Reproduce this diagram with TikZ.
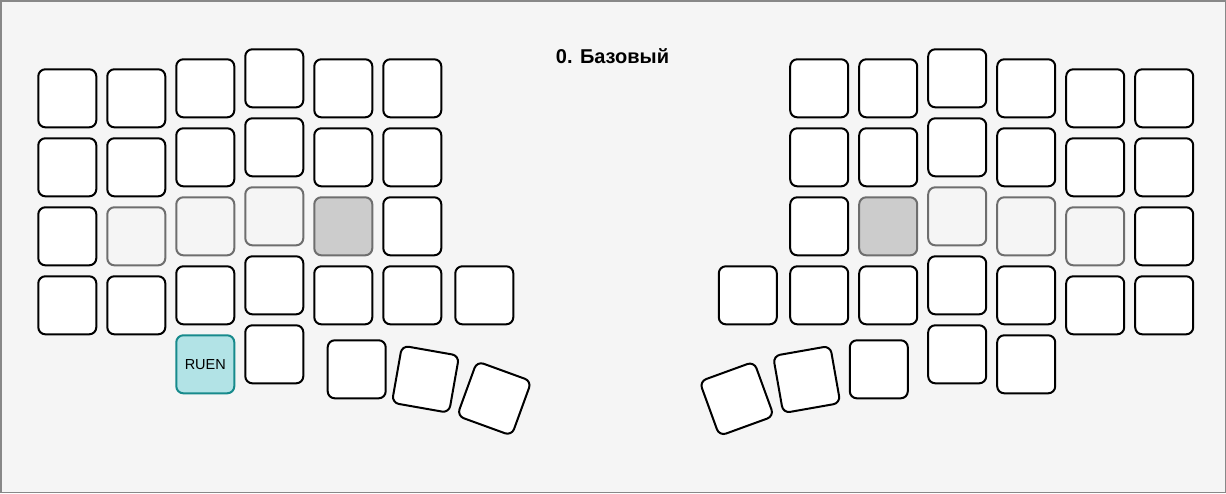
\documentclass[tikz,border=0pt]{standalone}
\usepackage{fontspec}
\setmainfont{Liberation Sans}
\definecolor{bggray}{HTML}{F5F5F5}
\definecolor{framegray}{HTML}{888888}
\definecolor{keygray}{HTML}{6E6E6E}
\definecolor{heldgray}{HTML}{CCCCCC}
\definecolor{cyanfill}{HTML}{B2E3E6}
\definecolor{tealline}{HTML}{178A8C}
\begin{document}
\begin{tikzpicture}[x=1pt,y=-1pt,
  key/.style={shape=rectangle,draw=black,fill=white,line width=2pt,rounded corners=7pt,
    minimum width=58pt,minimum height=58pt,inner sep=0pt},
  keyoff/.style={key,draw=keygray,fill=bggray},
  keyheld/.style={key,draw=keygray,fill=heldgray},
  keylayer/.style={key,draw=tealline,fill=cyanfill,font=\fontsize{14.5}{16}\selectfont}]
\fill[bggray] (0,0) rectangle (1226,493);
\draw[framegray,line width=1.5pt] (0.75,0.75) rectangle (1225.25,492.25);
\useasboundingbox (0,0) rectangle (1226,493);
\node[font=\bfseries\fontsize{20}{24}\selectfont,anchor=base] (title) at (612.5,63.3) {0. Базовый};
% left half
\foreach \c/\x/\y in {0/67.3/98.3,1/136.3/98.3,2/205.3/88.3,3/274.3/78.3,4/343.3/88.3,5/412.3/88.3}{
  \foreach \r in {0,1,3}{\node[key] (L\c\r) at (\x,\y+69*\r) {};}
}
\node[key]     (L02) at (67.3,236.3) {};
\node[keyoff]  (L12) at (136.3,236.3) {};
\node[keyoff]  (L22) at (205.3,226.3) {};
\node[keyoff]  (L32) at (274.3,216.3) {};
\node[keyheld] (L42) at (343.3,226.3) {};
\node[key]     (L52) at (412.3,226.3) {};
\node[keylayer] (L24) at (205.3,364.3) {RUEN};
\node[key] (L34) at (274.3,354.3) {};
\node[key] (L63) at (484.3,295.3) {};
\node[key] (LT1) at (356.7,369.3) {};
\node[key,rotate=-10] (LT2) at (425.5,379.2) {};
\node[key,rotate=-20] (LT3) at (494.3,398.5) {};
% right half
\foreach \c/\x/\y in {A/819.2/88.3,B/888.2/88.3,C/957.2/78.3,D/1026.2/88.3,E/1095.2/98.3,F/1164.2/98.3}{
  \foreach \r in {0,1,3}{\node[key] (R\c\r) at (\x,\y+69*\r) {};}
}
\node[key]     (RA2) at (819.2,226.3) {};
\node[keyheld] (RB2) at (888.2,226.3) {};
\node[keyoff]  (RC2) at (957.2,216.3) {};
\node[keyoff]  (RD2) at (1026.2,226.3) {};
\node[keyoff]  (RE2) at (1095.2,236.3) {};
\node[key]     (RF2) at (1164.2,236.3) {};
\node[key] (RC4) at (957.2,354.3) {};
\node[key] (RD4) at (1026.2,364.3) {};
\node[key] (RX3) at (747.8,295.3) {};
\node[key] (RT1) at (878.8,369.3) {};
\node[key,rotate=10] (RT2) at (806.7,379.5) {};
\node[key,rotate=20] (RT3) at (736.7,398.8) {};
\end{tikzpicture}
\end{document}
